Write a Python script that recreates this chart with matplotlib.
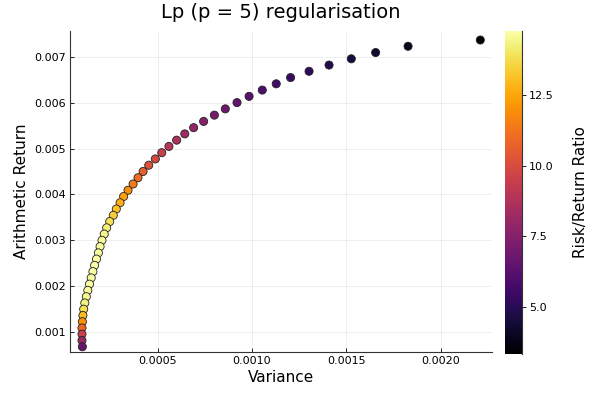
import matplotlib
matplotlib.use("Agg")
import matplotlib.pyplot as plt
import numpy as np

title = "Lp (p = 5) regularisation"
x_label = "Variance"
y_label = "Arithmetic Return"
cbar_label = "Risk/Return Ratio"

variance = [0.002211, 0.001828, 0.001656, 0.001527, 0.001409, 0.001303, 0.001205,
            0.001129, 0.001055, 0.000985, 0.000921, 0.000859, 0.000801, 0.000744,
            0.000691, 0.000644, 0.000601, 0.000560, 0.000522, 0.000488, 0.000453,
            0.000423, 0.000396, 0.000370, 0.000343, 0.000320, 0.000301, 0.000281,
            0.000265, 0.000246, 0.000230, 0.000217, 0.000205, 0.000195, 0.000186,
            0.000176, 0.000166, 0.000157, 0.000148, 0.000139, 0.000130, 0.000122,
            0.000114, 0.000108, 0.000104, 0.000101, 0.000099, 0.000099, 0.000099,
            0.000101]
returns = [0.007378, 0.007241, 0.007104, 0.006967, 0.006830, 0.006694, 0.006557,
           0.006420, 0.006283, 0.006146, 0.006009, 0.005872, 0.005735, 0.005598,
           0.005461, 0.005325, 0.005188, 0.005051, 0.004914, 0.004777, 0.004640,
           0.004503, 0.004366, 0.004229, 0.004092, 0.003956, 0.003819, 0.003682,
           0.003545, 0.003408, 0.003271, 0.003134, 0.002997, 0.002860, 0.002723,
           0.002587, 0.002450, 0.002313, 0.002176, 0.002039, 0.001902, 0.001765,
           0.001628, 0.001491, 0.001354, 0.001218, 0.001081, 0.000944, 0.000807,
           0.000670]
x_ticks = [0.0005, 0.0010, 0.0015, 0.0020]
x_tick_labels = ["0.0005", "0.0010", "0.0015", "0.0020"]
y_ticks = [0.001, 0.002, 0.003, 0.004, 0.005, 0.006, 0.007]
y_tick_labels = ["0.001", "0.002", "0.003", "0.004", "0.005", "0.006", "0.007"]
cbar_ticks = [5.0, 7.5, 10.0, 12.5]
cbar_tick_labels = ["5.0", "7.5", "10.0", "12.5"]

var = np.array(variance)
ret = np.array(returns)
ratio = ret / var

plt.rcParams['font.family'] = ['DejaVu Sans']

fig = plt.figure(figsize=(6, 4), dpi=100)
ax = fig.add_axes([70/600, 48/400, 422/600, 321/400])
cax = fig.add_axes([505/600, 46/400, 17/600, 323/400])

sc = ax.scatter(var, ret, c=ratio, cmap='inferno', vmin=ratio.min(), vmax=ratio.max(),
                s=34, edgecolors='#222222', linewidths=0.6, zorder=3)

ax.set_xlim(0.0000355, 0.002273)
ax.set_ylim(0.000555, 0.007575)
ax.set_xticks(x_ticks)
ax.set_xticklabels(x_tick_labels)
ax.set_yticks(y_ticks)
ax.set_yticklabels(y_tick_labels)
ax.tick_params(direction='in', length=3, width=0.6, labelsize=8, colors='black', pad=3)
ax.grid(True, color='black', alpha=0.08, linewidth=0.6)
ax.set_axisbelow(True)
for s in ['top', 'right']:
    ax.spines[s].set_visible(False)
for s in ['left', 'bottom']:
    ax.spines[s].set_linewidth(0.8)
    ax.spines[s].set_color('#333333')

ax.set_title(title, fontsize=14, pad=9)
ax.set_xlabel(x_label, fontsize=11, labelpad=3)
ax.set_ylabel(y_label, fontsize=11, labelpad=4)

cb = fig.colorbar(sc, cax=cax)
cb.outline.set_visible(False)
cax.plot([1, 1], [0, 1], transform=cax.transAxes, color='#333333', lw=0.8, clip_on=False)
cb.set_ticks(cbar_ticks)
cb.set_ticklabels(cbar_tick_labels)
cax.tick_params(direction='out', length=3, width=0.6, labelsize=8, pad=2)
cb.set_label(cbar_label, fontsize=11, labelpad=14)

fig.savefig("out.png", dpi=100)
